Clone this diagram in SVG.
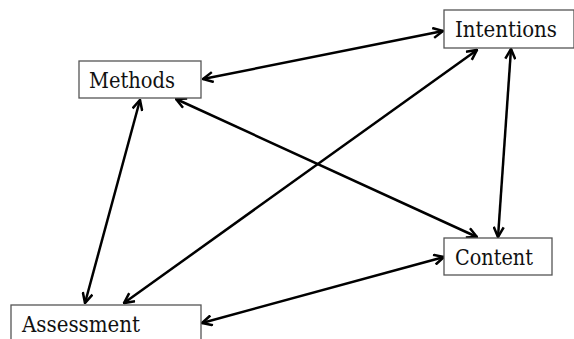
<svg xmlns="http://www.w3.org/2000/svg" width="574" height="339" viewBox="0 0 574 339">
<style>
.box{fill:#fff;stroke:#555;stroke-width:1.3}
.lbl{font-family:"DejaVu Serif","Liberation Serif",serif;font-size:22px;fill:#111}
.edge{stroke:#000;stroke-width:2.5;fill:none;marker-start:url(#ah);marker-end:url(#ah)}
</style>
<defs>
<marker id="ah" viewBox="0 0 12 12" refX="11" refY="6" markerWidth="12" markerHeight="12" markerUnits="userSpaceOnUse" orient="auto-start-reverse">
<path d="M1,1 L11,6 L1,11" fill="none" stroke="#000" stroke-width="2.5" stroke-linejoin="miter"/>
</marker>
</defs>
<rect width="574" height="339" fill="#fff"/>
<g id="connectors">
<line class="edge" x1="203" y1="79" x2="443" y2="31"/>
<line class="edge" x1="176" y1="99" x2="477" y2="237"/>
<line class="edge" x1="140" y1="100" x2="85" y2="303"/>
<line class="edge" x1="477" y1="50" x2="124" y2="303"/>
<line class="edge" x1="511" y1="49" x2="498" y2="237"/>
<line class="edge" x1="444" y1="257" x2="202" y2="323"/>
</g>
<g id="methods">
<rect class="box" x="79" y="61" width="122" height="37"/>
<text class="lbl" x="89" y="88" textLength="86" lengthAdjust="spacingAndGlyphs">Methods</text>
</g>
<g id="intentions">
<rect class="box" x="444" y="10" width="130" height="38"/>
<text class="lbl" x="455" y="37" textLength="102" lengthAdjust="spacingAndGlyphs">Intentions</text>
</g>
<g id="content">
<rect class="box" x="444" y="238" width="108" height="37"/>
<text class="lbl" x="455" y="265" textLength="78" lengthAdjust="spacingAndGlyphs">Content</text>
</g>
<g id="assessment">
<rect class="box" x="11" y="305" width="190" height="40"/>
<text class="lbl" x="22" y="332" textLength="118" lengthAdjust="spacingAndGlyphs">Assessment</text>
</g>
</svg>
